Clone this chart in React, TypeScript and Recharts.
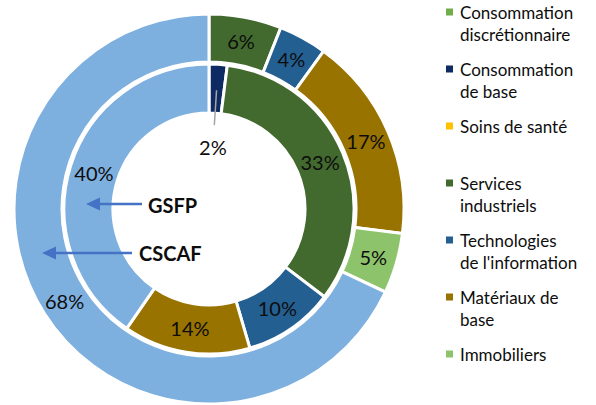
import { Cell, Pie, PieChart } from "recharts";

// CSCAF (outer ring), clockwise from 12 o'clock
const cscafSectors = ["services", "tech", "materiaux", "immo", "autre"];
const cscafValues = [6, 4, 17, 5, 68];

// GSFP (inner ring), clockwise from 12 o'clock
const gsfpSectors = ["base", "services", "tech", "materiaux", "autre"];
const gsfpValues = [2, 33, 10, 14, 40];

// legend entries visible in the frame
const legendSectors = ["discr", "base", "sante", "services", "tech", "materiaux", "immo"];
const legendLabels = [
  ["Consommation", "discrétionnaire"],
  ["Consommation", "de base"],
  ["Soins de santé"],
  ["Services", "industriels"],
  ["Technologies", "de l'information"],
  ["Matériaux de", "base"],
  ["Immobiliers"],
];

const COLORS: Record<string, string> = {
  discr: "#70AD47",
  base: "#0E2A62",
  sante: "#FFC000",
  services: "#436A2E",
  tech: "#245F92",
  materiaux: "#997300",
  immo: "#8DC46B",
  autre: "#7EB0DF",
};

const FONT = "Lato, 'Open Sans', sans-serif";
const RAD = Math.PI / 180;
const CX = 209;
const CY = 209;

const cscafData = cscafSectors.map((s, i) => ({ sector: s, value: cscafValues[i] }));
const gsfpData = gsfpSectors.map((s, i) => ({ sector: s, value: gsfpValues[i] }));

function polar(cx: number, cy: number, r: number, angle: number) {
  return { x: cx + r * Math.cos(-angle * RAD), y: cy + r * Math.sin(-angle * RAD) };
}

function renderLabel(inner: boolean) {
  return (p: any) => {
    const { cx, cy, midAngle, innerRadius, outerRadius, value, index } = p;
    // small inner slice: label pulled into the hole with a leader line
    if (inner && index === 0) {
      const a = polar(cx, cy, outerRadius - 26, midAngle);
      const b = polar(cx, cy, innerRadius - 12, midAngle);
      const t = polar(cx, cy, innerRadius - 34, midAngle);
      return (
        <g>
          <line x1={a.x} y1={a.y} x2={b.x} y2={b.y} stroke="#A6A6A6" strokeWidth={1.5} />
          <text x={t.x} y={t.y} textAnchor="middle" dominantBaseline="central"
            fontFamily={FONT} fontSize={20} fill="#0D0D0D">{value}%</text>
        </g>
      );
    }
    const pt = polar(cx, cy, (innerRadius + outerRadius) / 2, midAngle);
    return (
      <text x={pt.x} y={pt.y} textAnchor="middle" dominantBaseline="central"
        fontFamily={FONT} fontSize={20} fill="#0D0D0D">{value}%</text>
    );
  };
}

function Arrow({ x1, x2, y }: { x1: number; x2: number; y: number }) {
  return (
    <g>
      <line x1={x1} y1={y} x2={x2 + 10} y2={y} stroke="#4472C4" strokeWidth={2.5} />
      <path d={`M${x2},${y} L${x2 + 14},${y - 6.5} L${x2 + 14},${y + 6.5} Z`} fill="#4472C4" />
    </g>
  );
}

function Overlay() {
  return (
    <svg width={596} height={405}
      style={{ position: "absolute", left: 0, top: 0, pointerEvents: "none" }}>
      <Arrow x1={142} x2={86} y={204} />
      <text x={148} y={205} dominantBaseline="central" fontFamily={FONT} fontWeight={700}
        fontSize={20} fill="#0D0D0D">GSFP</text>
      <Arrow x1={132} x2={42} y={253} />
      <text x={139} y={253} dominantBaseline="central" fontFamily={FONT} fontWeight={700}
        fontSize={20} fill="#0D0D0D">CSCAF</text>
      {legendSectors.map((s, i) => {
        const y0 = 12 + i * 57;
        return (
          <g key={s}>
            <rect x={446} y={y0 - 3.5} width={7} height={7} fill={COLORS[s]} />
            {legendLabels[i].map((line, j) => (
              <text key={j} x={460} y={y0 + j * 22} dominantBaseline="central"
                fontFamily={FONT} fontSize={17} fill="#0D0D0D">{line}</text>
            ))}
          </g>
        );
      })}
    </svg>
  );
}

export default function App() {
  return (
    <div style={{ position: "absolute", left: 0, top: 0, width: 596, height: 405, background: "#fff" }}>
      <PieChart width={596} height={405} margin={{ top: 0, right: 0, bottom: 0, left: 0 }}>
        <Pie
          data={cscafData}
          dataKey="value"
          nameKey="sector"
          cx={CX}
          cy={CY}
          innerRadius={147}
          outerRadius={195}
          startAngle={90}
          endAngle={-270}
          stroke="#fff"
          strokeWidth={3}
          label={renderLabel(false)}
          labelLine={false}
          isAnimationActive={false}
        >
          {cscafData.map((d) => (
            <Cell key={d.sector} fill={COLORS[d.sector]} />
          ))}
        </Pie>
        <Pie
          data={gsfpData}
          dataKey="value"
          nameKey="sector"
          cx={CX}
          cy={CY}
          innerRadius={96}
          outerRadius={145}
          startAngle={90}
          endAngle={-270}
          stroke="#fff"
          strokeWidth={3}
          label={renderLabel(true)}
          labelLine={false}
          isAnimationActive={false}
        >
          {gsfpData.map((d) => (
            <Cell key={d.sector} fill={COLORS[d.sector]} />
          ))}
        </Pie>
      </PieChart>
      <Overlay />
    </div>
  );
}
